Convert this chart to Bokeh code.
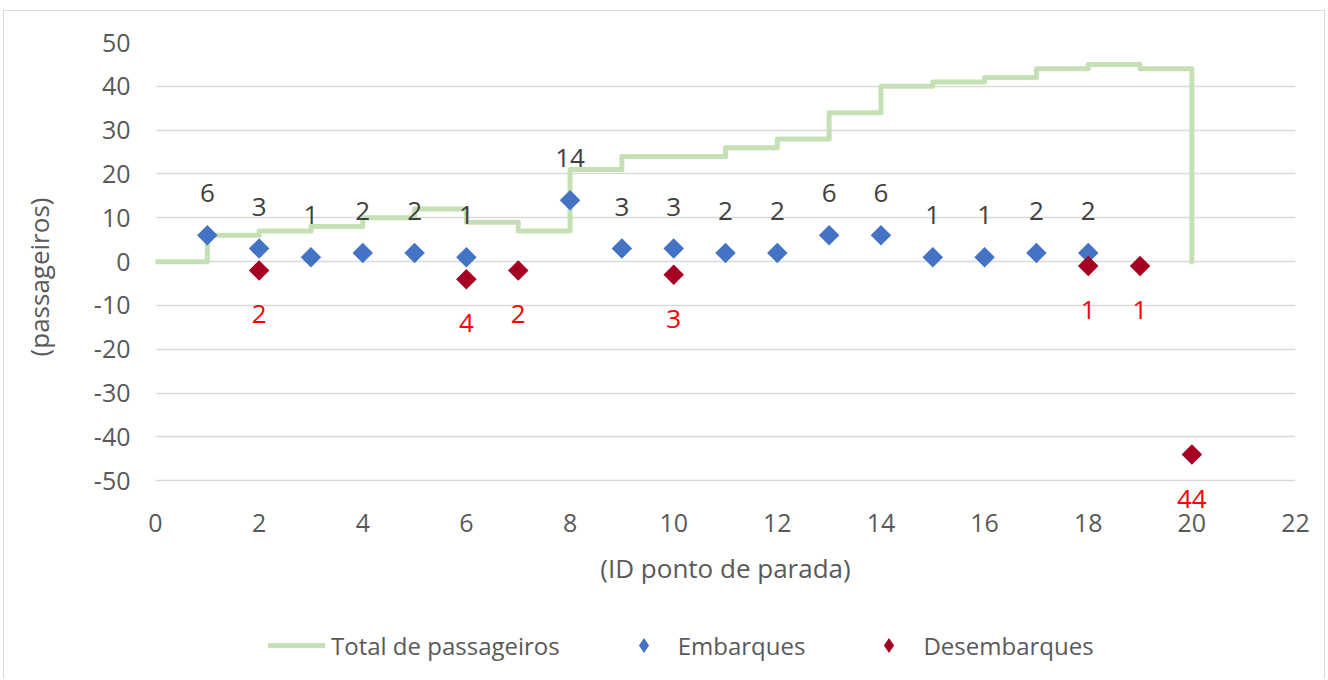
import math
from bokeh.plotting import figure
from bokeh.layouts import column
from bokeh.models import ColumnDataSource, Legend, LegendItem, FixedTicker, Range1d
from bokeh.core.properties import value
from bokeh.embed import file_html
from bokeh.resources import INLINE

# ---- data ----
total_x = [0, 1, 2, 3, 4, 5, 6, 7, 8, 9, 10, 11, 12, 13, 14, 15, 16, 17, 18, 19, 20]
total_y = [0, 6, 7, 8, 10, 12, 9, 7, 21, 24, 24, 26, 28, 34, 40, 41, 42, 44, 45, 44, 0]

emb_x = [1, 2, 3, 4, 5, 6, 8, 9, 10, 11, 12, 13, 14, 15, 16, 17, 18]
emb_y = [6, 3, 1, 2, 2, 1, 14, 3, 3, 2, 2, 6, 6, 1, 1, 2, 2]

des_x = [2, 6, 7, 10, 18, 19, 20]
des_y = [-2, -4, -2, -3, -1, -1, -44]

x_ticks = [0, 2, 4, 6, 8, 10, 12, 14, 16, 18, 20, 22]
y_ticks = [-50, -40, -30, -20, -10, 0, 10, 20, 30, 40, 50]

series_names = ["Total de passageiros", "Embarques", "Desembarques"]

FONT = "Open Sans"
GREEN = "#C5E0B4"
BLUE = "#4472C4"
RED = "#A50021"
GREY_TXT = "#595959"

W = 1320
MAIN_H = 589
LEG_H = 78

# frame bottom extended slightly below -50 so the lowest data label stays visible
p = figure(width=W, height=MAIN_H, output_backend="svg", toolbar_location=None,
           x_range=Range1d(0, 22), y_range=Range1d(-57, 50),
           min_border_left=151, min_border_right=29, min_border_top=31, min_border_bottom=89)
p.outline_line_color = None
p.background_fill_color = "white"
p.border_fill_color = "white"

tot_src = ColumnDataSource(dict(x=total_x, y=total_y))
emb_src = ColumnDataSource(dict(x=emb_x, y=emb_y, t=[str(v) for v in emb_y]))
des_src = ColumnDataSource(dict(x=des_x, y=des_y, t=[str(abs(v)) for v in des_y]))

line_kw = dict(line_color=GREEN, line_width=5, line_join="round", line_cap="round")
emb_kw = dict(marker="square", size=14.5, angle=math.pi / 4, fill_color=BLUE, line_color=None)
des_kw = dict(marker="square", size=14.5, angle=math.pi / 4, fill_color=RED, line_color=None)

p.step("x", "y", source=tot_src, mode="after", **line_kw)
p.scatter("x", "y", source=emb_src, **emb_kw)
p.scatter("x", "y", source=des_src, **des_kw)

p.text("x", "y", text="t", source=emb_src, y_offset=-42, text_align="center",
       text_baseline="middle", text_font=value(FONT), text_font_size="26px",
       text_color="#404040")
p.text("x", "y", text="t", source=des_src, y_offset=44, text_align="center",
       text_baseline="middle", text_font=value(FONT), text_font_size="26px",
       text_color="#FF0000")

# grid
p.xgrid.grid_line_color = None
p.ygrid.ticker = FixedTicker(ticks=y_ticks)
p.ygrid.grid_line_color = "#D9D9D9"
p.ygrid.grid_line_width = 1.5

# axes
p.xaxis.ticker = FixedTicker(ticks=x_ticks)
p.yaxis.ticker = FixedTicker(ticks=y_ticks)
p.yaxis.major_label_overrides = {t: str(t) for t in y_ticks}
for ax in (p.xaxis[0], p.yaxis[0]):
    ax.axis_line_color = None
    ax.major_tick_line_color = None
    ax.minor_tick_line_color = None
    ax.major_tick_out = 0
    ax.major_tick_in = 0
    ax.minor_tick_out = 0
    ax.major_label_text_font = FONT
    ax.major_label_text_font_size = "25px"
    ax.major_label_text_color = GREY_TXT
    ax.axis_label_text_font = FONT
    ax.axis_label_text_font_size = "26px"
    ax.axis_label_text_font_style = "normal"
    ax.axis_label_text_color = GREY_TXT

p.xaxis.axis_label = "(ID ponto de parada)"
p.yaxis.axis_label = "(passageiros)"
p.xaxis.major_label_standoff = 2
p.xaxis.axis_label_standoff = 15
p.yaxis.major_label_standoff = 25
p.yaxis.axis_label_standoff = 34

# ---- legend strip below the chart (same series, drawn outside its visible range) ----
lg = figure(width=W, height=LEG_H, output_backend="svg", toolbar_location=None,
            x_range=Range1d(0, 22), y_range=Range1d(1000, 1001),
            min_border_left=0, min_border_right=0, min_border_top=0, min_border_bottom=0)
lg.axis.visible = False
lg.grid.visible = False
lg.outline_line_color = None
lg.background_fill_color = "white"
lg.border_fill_color = "white"
l1 = lg.step("x", "y", source=tot_src, mode="after", **line_kw)
l2 = lg.scatter("x", "y", source=emb_src, marker="diamond", fill_color=BLUE, line_color=None)
l3 = lg.scatter("x", "y", source=des_src, marker="diamond", fill_color=RED, line_color=None)

legend = Legend(items=[
    LegendItem(label=series_names[0], renderers=[l1]),
    LegendItem(label=series_names[1], renderers=[l2]),
    LegendItem(label=series_names[2], renderers=[l3]),
], orientation="horizontal", location=(113, 14))
legend.border_line_color = None
legend.background_fill_alpha = 0
legend.label_text_font = FONT
legend.label_text_font_size = "24px"
legend.label_text_color = GREY_TXT
legend.glyph_width = 57
legend.glyph_height = 38
legend.label_standoff = 6
legend.spacing = 55
legend.padding = 0
legend.margin = 0
lg.add_layout(legend, "center")

layout = column(p, lg, spacing=0, margin=(10, 0, 0, 3),
                styles={"border": "1px solid #D9D9D9", "border-bottom": "none"})
open("out.html", "w").write(file_html(layout, INLINE))
